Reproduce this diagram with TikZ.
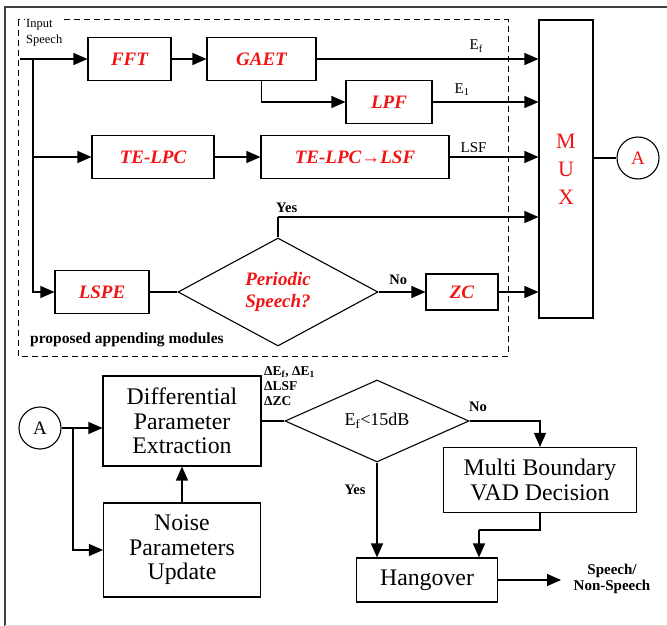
\documentclass[tikz,border=0pt]{standalone}
\usepackage{fontspec}
\setmainfont{Liberation Serif}
\usetikzlibrary{arrows.meta,shapes.geometric,calc}
\definecolor{boxred}{RGB}{240,20,20}
\tikzset{
  box/.style={draw, line width=1.1pt, rectangle, inner sep=0pt, align=center},
  redbox/.style={box, text=boxred, font=\fontsize{19}{21}\selectfont\bfseries\itshape},
  blackbox/.style={box, font=\fontsize{23.8}{24.5}\selectfont},
  dia/.style={draw, line width=1.1pt, shape=diamond, inner sep=0pt, align=center},
  arr/.style={line width=1.3pt, -{Triangle[length=14pt,width=12pt]}},
  ln/.style={line width=1.3pt},
  lbl/.style={font=\fontsize{14.5}{15}\selectfont\bfseries, inner sep=0pt},
  circ/.style={draw, line width=1.1pt, circle, minimum size=42pt, inner sep=0pt, font=\fontsize{19}{20}\selectfont}
}
\begin{document}
\begin{tikzpicture}[x=1pt,y=-1pt]
\useasboundingbox (0,0) rectangle (667,626);
% outer frame
\draw[line width=1.4pt, black!75] (667,7) -- (5,7) -- (5,626);
\draw[line width=0.6pt, black!12] (5,625) -- (667,625);
% dashed box
\draw[line width=1pt, dash pattern=on 6pt off 4pt] (18,20) rectangle (508,356);
\node[lbl, anchor=west, font=\fontsize{15.5}{16}\selectfont\bfseries] (pam) at (30,340) {proposed appending modules};
\node[lbl, anchor=north west, fill=white, inner sep=1pt, font=\fontsize{12.5}{16}\selectfont, align=left] (inp) at (25,18) {Input\\Speech};

% top nodes
\node[redbox, minimum width=83pt, minimum height=43pt] (fft) at (129.5,59) {FFT};
\node[redbox, minimum width=109pt, minimum height=43pt] (gaet) at (261.5,59) {GAET};
\node[redbox, minimum width=86pt, minimum height=43pt] (lpf) at (389,102) {LPF};
\node[redbox, minimum width=122pt, minimum height=43pt] (telpc) at (153,157) {TE-LPC};
\node[redbox, minimum width=188pt, minimum height=43pt] (lsf) at (355,157) {TE-LPC→LSF};
\node[redbox, minimum width=94pt, minimum height=43pt] (lspe) at (102,292) {LSPE};
\node[dia, minimum width=200pt, minimum height=108pt, text=boxred, font=\fontsize{19}{22}\selectfont\bfseries\itshape] (ps) at (278,292) {Periodic\\Speech?};
\node[redbox, minimum width=72pt, minimum height=36pt] (zc) at (462,292) {ZC};
\node[box, minimum width=54pt, minimum height=298pt, text=boxred, font=\fontsize{22}{28}\selectfont] (mux) at (566,169) {M\\U\\X};
\node[circ, text=boxred] (a1) at (638,158) {A};

% top connectors
\coordinate (in) at (20,59);
\coordinate (br) at (33,59);
\draw[arr] (in) -- (fft.west);
\draw[arr] (fft.east) -- (gaet.west);
\draw[arr] (gaet.east) -- node[lbl, above=6pt, pos=0.72, font=\fontsize{15}{15}\selectfont] {E\textsubscript{f}} (gaet.east -| mux.west);
\draw[arr] (gaet.south) |- (lpf.west);
\draw[arr] (lpf.east) -- node[lbl, above=6pt, pos=0.28, font=\fontsize{15}{15}\selectfont] {E\textsubscript{1}} (lpf.east -| mux.west);
\draw[arr] (br) |- (lspe.west);
\draw[arr] (br |- telpc.west) -- (telpc.west);
\draw[arr] (telpc.east) -- (lsf.west);
\draw[arr] (lsf.east) -- node[above=4pt, pos=0.27, inner sep=0pt, font=\fontsize{15}{15}\selectfont] {LSF} (lsf.east -| mux.west);
\draw[ln] (lspe.east) -- (ps.west);
\coordinate (yt) at (278,217);
\draw[ln] (ps.north) -- (yt);
\draw[arr] (yt) -- (yt -| mux.west);
\node[lbl, anchor=south west] (yes1) at (276,213) {Yes};
\draw[arr] (ps.east) -- node[lbl, above=7pt, pos=0.42] {No} (zc.west);
\draw[arr] (zc.east) -- (zc.east -| mux.west);
\draw[ln] (mux.east |- a1.west) -- (a1.west);

% bottom nodes
\node[circ] (a2) at (40,428) {A};
\node[blackbox, minimum width=158pt, minimum height=90pt] (diff) at (182,421) {Differential\\Parameter\\Extraction};
\node[blackbox, minimum width=157pt, minimum height=94pt] (noise) at (182,550) {Noise\\Parameters\\Update};
\node[dia, minimum width=184pt, minimum height=82pt, font=\fontsize{18}{20}\selectfont] (ed) at (377,421) {E\textsubscript{f}<15dB};
\node[blackbox, minimum width=193pt, minimum height=65pt] (multi) at (540,480) {Multi Boundary\\VAD Decision};
\node[blackbox, minimum width=141pt, minimum height=44pt] (hang) at (427,580) {Hangover};

% bottom connectors
\coordinate (bj) at (73,428);
\draw[arr] (a2.east) -- (a2.east -| diff.west);
\draw[arr] (bj) |- (noise.west);
\draw[arr] (noise.north) -- (diff.south);
\draw[line width=2pt] (diff.east) -- (ed.west);
\node[lbl, anchor=north west, align=left, font=\fontsize{13.5}{15}\selectfont\bfseries] (dl) at (264,366) {ΔE\textsubscript{f}, ΔE\textsubscript{1}\\ΔLSF\\ΔZC};
\draw[arr] (ed.east) -| (multi.north);
\node[lbl] (no2) at (478,407) {No};
\draw[arr] (ed.south) -- (ed.south |- hang.north);
\node[lbl] (yes2) at (355,490) {Yes};
\coordinate (m1) at (479,530);
\draw[ln] (multi.south) |- (m1);
\draw[arr] (m1) -- (m1 |- hang.north);
\coordinate (out) at (561,580);
\draw[arr] (hang.east) -- (out);
\node[lbl, align=center, font=\fontsize{15}{16}\selectfont\bfseries] (sp) at (612,579) {Speech/\\Non-Speech};
\end{tikzpicture}
\end{document}
